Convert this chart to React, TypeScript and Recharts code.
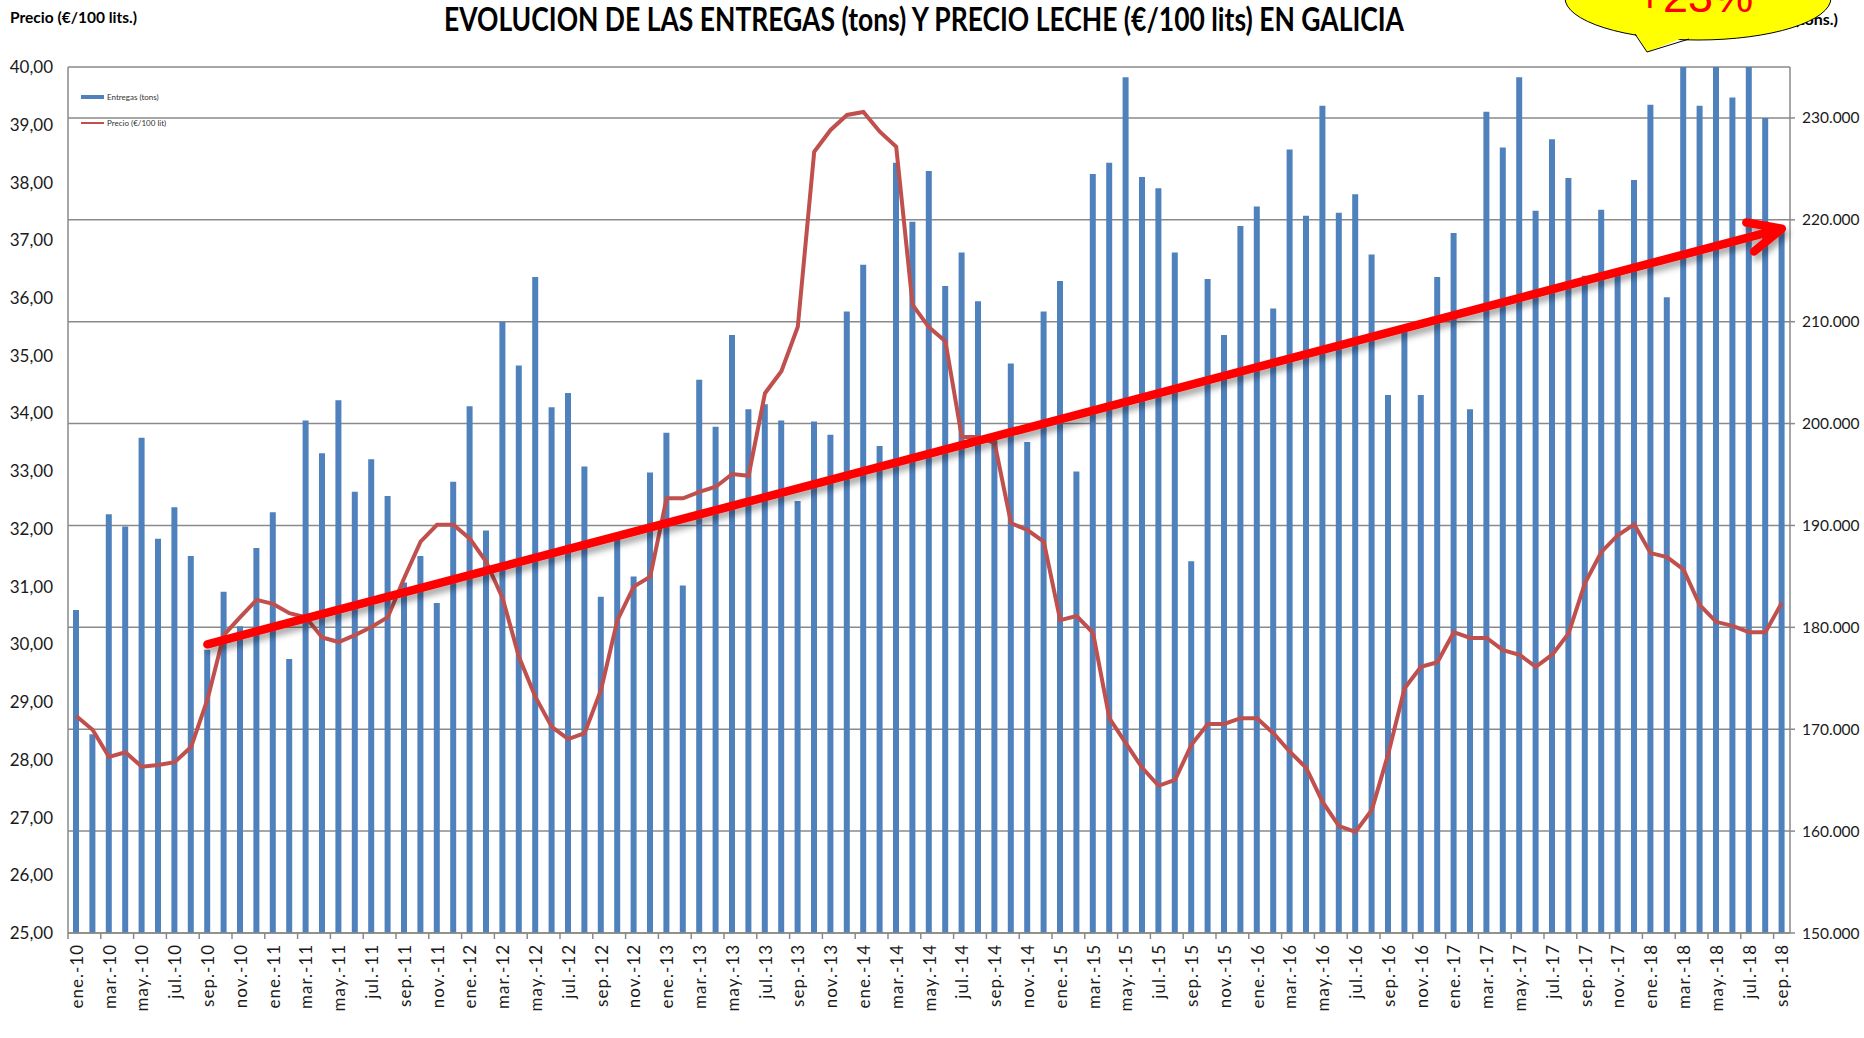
import { Bar, CartesianGrid, ComposedChart, Line, ReferenceLine, XAxis, YAxis } from "recharts"

const monthNames = ["ene.", "feb.", "mar.", "abr.", "may.", "jun.", "jul.", "ago.", "sep.", "oct.", "nov.", "dic."]
const years = ["10", "11", "12", "13", "14", "15", "16", "17", "18"]
const months = years.flatMap((y) => monthNames.map((m) => `${m}-${y}`)).slice(0, 105)

// Entregas (tons), eje derecho
const entregas = [
  181700, 169500, 191100, 189900, 198600, 188700, 191800, 187000, 177800, 183500, 180100, 187800,
  191300, 176900, 200300, 197100, 202300, 193300, 196500, 192900, 184400, 187000, 182400, 194300,
  201700, 189500, 210000, 205700, 214400, 201600, 203000, 195800, 183000, 189200, 185000, 195200,
  199100, 184100, 204300, 199700, 208700, 201400, 201900, 200300, 192400, 200200, 198900, 211000,
  215600, 197800, 225600, 219800, 224800, 213500, 216800, 212000, 198500, 205900, 198200, 211000,
  214000, 195300, 224500, 225600, 234000, 224200, 223100, 216800, 186500, 214200, 208700, 219400,
  221300, 211300, 226900, 220400, 231200, 220700, 222500, 216600, 202800, 209000, 202800, 214400,
  218700, 201400, 230600, 227100, 234000, 220900, 227900, 224100, 214500, 221000, 215000, 223900,
  231300, 212400, 235000, 231200, 235000, 232000, 235000, 230000, 219000,
]

// Precio (€/100 lit), eje izquierdo
const precio = [
  28.76, 28.52, 28.05, 28.13, 27.88, 27.91, 27.96, 28.22, 29.04, 30.16, 30.47, 30.77,
  30.7, 30.54, 30.47, 30.12, 30.04, 30.16, 30.3, 30.47, 31.15, 31.78, 32.07, 32.07,
  31.83, 31.43, 30.8, 29.78, 29.09, 28.57, 28.36, 28.46, 29.21, 30.42, 31.0, 31.17,
  32.53, 32.53, 32.64, 32.73, 32.95, 32.92, 34.35, 34.73, 35.5, 38.53, 38.91, 39.17,
  39.22, 38.88, 38.62, 35.88, 35.49, 35.25, 33.59, 33.59, 33.49, 32.1, 31.98, 31.78,
  30.42, 30.49, 30.2, 28.72, 28.29, 27.86, 27.55, 27.65, 28.26, 28.62, 28.62, 28.72,
  28.72, 28.46, 28.14, 27.86, 27.27, 26.85, 26.75, 27.13, 28.1, 29.24, 29.61, 29.69,
  30.21, 30.11, 30.11, 29.9, 29.82, 29.61, 29.82, 30.19, 31.06, 31.6, 31.89, 32.08,
  31.58, 31.51, 31.3, 30.68, 30.39, 30.32, 30.21, 30.21, 30.72,
]

const precioTicks = [25, 26, 27, 28, 29, 30, 31, 32, 33, 34, 35, 36, 37, 38, 39, 40]
const entregasTicks = [150000, 160000, 170000, 180000, 190000, 200000, 210000, 220000, 230000]

const trendFrom = { month: "sep.-10", precio: 30.0 }
const trendTo = { month: "sep.-18", precio: 37.2 }

const data = months.map((month, i) => ({ month, entregas: entregas[i], precio: precio[i] }))

const axisFont = "Lato, 'Open Sans', sans-serif"
const gray = "#8a8a8a"

function MonthTick(props: any) {
  const { x, y, payload } = props
  const edge = x - (payload.offset || 0)
  return (
    <g>
      <line x1={edge} y1={y} x2={edge} y2={y + 6} stroke={gray} strokeWidth={1.5} />
      <text
        transform={`translate(${x},${y + 11}) rotate(-90)`}
        textAnchor="end"
        dominantBaseline="central"
        fontFamily={axisFont}
        fontSize={17}
        letterSpacing={1}
        fill="#1a1a1a"
      >
        {payload.value}
      </text>
    </g>
  )
}

function TrendArrow(props: any) {
  const { x1, y1, x2, y2 } = props
  const ang = Math.atan2(y2 - y1, x2 - x1)
  const len = 36
  const spread = 0.43
  const ax = x2 - len * Math.cos(ang - spread)
  const ay = y2 - len * Math.sin(ang - spread)
  const bx = x2 - len * Math.cos(ang + spread)
  const by = y2 - len * Math.sin(ang + spread)
  return (
    <g>
      <defs>
        <filter id="trendShadow" x="-5%" y="-20%" width="110%" height="140%">
          <feDropShadow dx={3} dy={5} stdDeviation={3} floodColor="#000" floodOpacity={0.35} />
        </filter>
      </defs>
      <path
        d={`M${x1},${y1} L${x2},${y2} M${ax},${ay} L${x2},${y2} L${bx},${by}`}
        stroke="#ff0000"
        strokeWidth={8.5}
        fill="none"
        strokeLinecap="round"
        strokeLinejoin="round"
        filter="url(#trendShadow)"
      />
    </g>
  )
}

export default function App() {
  return (
    <div style={{ position: "absolute", left: 0, top: 0, width: 1864, height: 1038, background: "#fff" }}>
      <ComposedChart width={1864} height={1038} data={data} margin={{ top: 67, right: 0, bottom: 0, left: 0 }}>
        <CartesianGrid yAxisId="right" vertical={false} stroke={gray} strokeWidth={1.5} />
        <XAxis
          xAxisId="cat"
          dataKey="month"
          interval={1}
          height={105}
          tickSize={0}
          tickMargin={0}
          tickLine={false}
          tick={<MonthTick />}
          axisLine={{ stroke: gray, strokeWidth: 1.5 }}
        />
        <YAxis
          yAxisId="left"
          orientation="left"
          width={68}
          domain={[25, 40]}
          ticks={precioTicks}
          allowDataOverflow
          tickLine={false}
          tickSize={0}
          tickMargin={15}
          tickFormatter={(v: number) => v.toFixed(2).replace(".", ",")}
          tick={{ fontFamily: axisFont, fontSize: 17, fill: "#1a1a1a" }}
          axisLine={{ stroke: gray, strokeWidth: 1.5 }}
        />
        <YAxis
          yAxisId="right"
          orientation="right"
          width={74}
          domain={[150000, 235000]}
          ticks={entregasTicks}
          allowDataOverflow
          tickSize={5}
          tickMargin={7}
          tickLine={{ stroke: gray, strokeWidth: 1.5 }}
          tickFormatter={(v: number) => `${Math.round(v / 1000)}.000`}
          tick={{ fontFamily: axisFont, fontSize: 15.5, fill: "#1a1a1a" }}
          axisLine={{ stroke: gray, strokeWidth: 1.5 }}
        />
        <Bar xAxisId="cat" yAxisId="right" dataKey="entregas" fill="#4f81bd" barSize={6} isAnimationActive={false} />
        <Line
          xAxisId="cat"
          yAxisId="left"
          type="linear"
          dataKey="precio"
          stroke="#c0504d"
          strokeWidth={4}
          dot={false}
          isAnimationActive={false}
        />
        <ReferenceLine
          xAxisId="cat"
          yAxisId="left"
          segment={[
            { x: trendFrom.month, y: trendFrom.precio },
            { x: trendTo.month, y: trendTo.precio },
          ]}
          shape={(p: any) => <TrendArrow {...p} />}
        />
      </ComposedChart>

      <svg
        width={1864}
        height={1038}
        style={{ position: "absolute", left: 0, top: 0, pointerEvents: "none" }}
      >
        <text
          x={924}
          y={18}
          textAnchor="middle"
          dominantBaseline="central"
          fontFamily={axisFont}
          fontWeight={700}
          fontSize={33}
          textLength={960}
          lengthAdjust="spacingAndGlyphs"
          fill="#000"
        >
          EVOLUCION DE LAS ENTREGAS (tons) Y PRECIO LECHE (€/100 lits) EN GALICIA
        </text>
        <text
          x={10}
          y={16}
          dominantBaseline="central"
          fontFamily={axisFont}
          fontWeight={700}
          fontSize={16}
          textLength={127}
          lengthAdjust="spacingAndGlyphs"
          fill="#000"
        >
          Precio (€/100 lits.)
        </text>
        <text
          x={1838}
          y={18}
          textAnchor="end"
          dominantBaseline="central"
          fontFamily={axisFont}
          fontWeight={700}
          fontSize={16}
          fill="#000"
        >
          Entregas (tons.)
        </text>

        {/* leyenda */}
        <rect x={81} y={95} width={23} height={4} fill="#4f81bd" />
        <text x={107} y={97} dominantBaseline="central" fontFamily={axisFont} fontSize={8} fill="#333">
          Entregas (tons)
        </text>
        <line x1={81} y1={123} x2={104} y2={123} stroke="#c0504d" strokeWidth={2} />
        <text x={107} y={123} dominantBaseline="central" fontFamily={axisFont} fontSize={8} fill="#333">
          Precio (€/100 lit)
        </text>

        {/* bocadillo */}
        <ellipse cx={1698} cy={-2} rx={133} ry={42} fill="#ffff00" stroke="#000" strokeWidth={1} />
        <path d="M1632,28 L1647,52 L1693,34 Z" fill="#ffff00" />
        <path d="M1635,34 L1647,52 L1689,39" fill="none" stroke="#000" strokeWidth={1} />
        <text
          x={1695}
          y={12}
          textAnchor="middle"
          fontFamily="'Liberation Sans', Arial, sans-serif"
          fontSize={45}
          fill="#ff0000"
        >
          +23%
        </text>
      </svg>
    </div>
  )
}
